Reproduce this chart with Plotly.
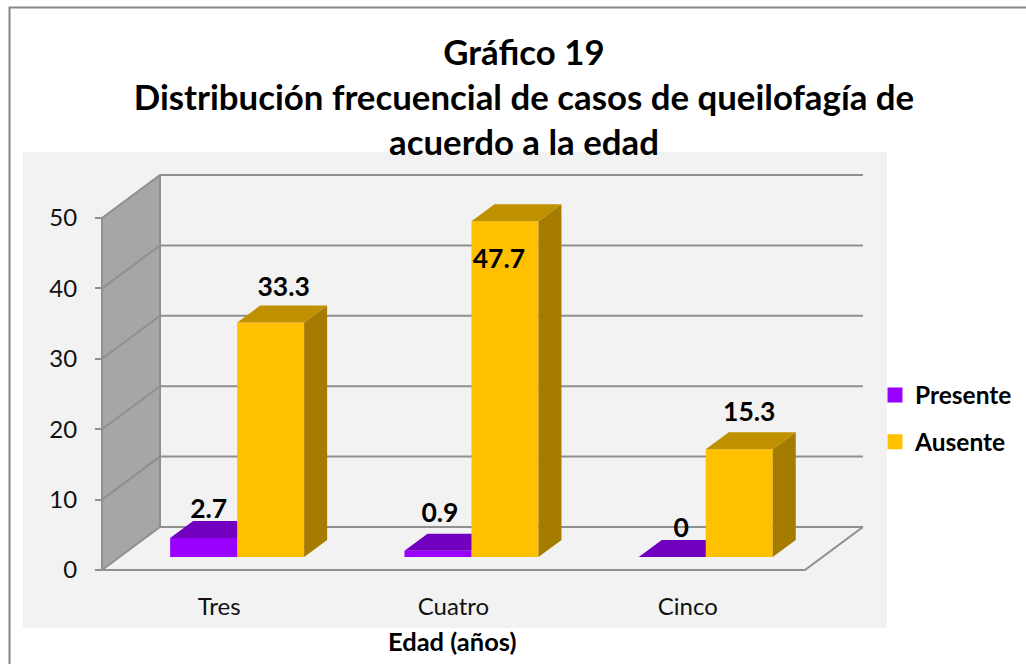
import plotly.graph_objects as go

# --- data ---
categories = ["Tres", "Cuatro", "Cinco"]
presente = [2.7, 0.9, 0]
ausente = [33.3, 47.7, 15.3]
y_ticks = [0, 10, 20, 30, 40, 50]
title_lines = ["Gráfico 19", "Distribución frecuencial de casos de queilofagía de", "acuerdo a la edad"]

# --- page geometry (pixels) ---
W, H = 1026, 664
PX_X0, PX_Y0 = 102, 570          # origin of the value axes
PX_PER_CAT = 234.3
PX_PER_UNIT = 7.04

def ux(px):
    return px / PX_PER_CAT

def uy(px):
    return px / PX_PER_UNIT

X_RANGE = [ux(0 - PX_X0), ux(W - PX_X0)]
Y_RANGE = [uy(PX_Y0 - H), uy(PX_Y0)]

WALL_DX, WALL_DY = ux(58), uy(43)
BAR_DX, BAR_DY = ux(23), uy(17)
BAR_BASE = uy(13)
BAR_W = ux(67)
GROUP_SHIFT = ux(18)
cat_pos = [i + 0.5 for i in range(len(categories))]
n_cat = len(categories)

GRID = "#8f8f8f"
WALL = "#a6a6a6"
PANEL = "#f2f2f2"
FONT = "Lato"
PURPLE, ORANGE = "#9900FF", "#FFC000"

shapes = [
    dict(type="rect", xref="paper", yref="paper", x0=23 / W, x1=887 / W, y0=1 - 628 / H, y1=1 - 152 / H,
         fillcolor=PANEL, line_width=0, layer="below"),
    # the page border: only its left and top edges fall inside the picture
    dict(type="path", xref="paper", yref="paper", layer="below", line=dict(color="#868686", width=2),
         path=f"M{9.5 / W},0 L{9.5 / W},{1 - 7.5 / H} L1,{1 - 7.5 / H}"),
]
# left wall
shapes.append(dict(type="path", xref="x", yref="y", layer="below", fillcolor=WALL, line_width=0,
                   path=f"M0,0 L{WALL_DX},{WALL_DY} L{WALL_DX},{y_ticks[-1] + WALL_DY} L0,{y_ticks[-1]} Z"))
# gridlines on wall and back
for v in y_ticks:
    shapes.append(dict(type="path", xref="x", yref="y", layer="below", line=dict(color=GRID, width=2),
                       path=f"M0,{v} L{WALL_DX},{v + WALL_DY} L{n_cat + WALL_DX},{v + WALL_DY}"))
# axis lines, floor edges
shapes.append(dict(type="path", xref="x", yref="y", layer="below", line=dict(color=GRID, width=2),
                   path=f"M0,{y_ticks[-1]} L0,0 L{n_cat},0 L{n_cat + WALL_DX},{WALL_DY}"))
shapes.append(dict(type="line", xref="x", yref="y", layer="below", line=dict(color=GRID, width=2),
                   x0=WALL_DX, x1=WALL_DX, y0=WALL_DY, y1=y_ticks[-1] + WALL_DY))


def faces(xs, vals, top_color, side_color, xa, ya):
    out = []
    for x, v in zip(xs, vals):
        l, r = x - BAR_W / 2, x + BAR_W / 2
        b, t = BAR_BASE, BAR_BASE + v
        out.append(go.Scatter(x=[r, r + BAR_DX, r + BAR_DX, r, r], y=[b, b + BAR_DY, t + BAR_DY, t, b],
                              mode="lines", line_width=0, fill="toself", fillcolor=side_color,
                              showlegend=False, hoverinfo="skip", xaxis=xa, yaxis=ya))
        out.append(go.Scatter(x=[l, l + BAR_DX, r + BAR_DX, r, l], y=[t, t + BAR_DY, t + BAR_DY, t, t],
                              mode="lines", line_width=0, fill="toself", fillcolor=top_color,
                              showlegend=False, hoverinfo="skip", xaxis=xa, yaxis=ya))
    return out


x_pre = [c + GROUP_SHIFT - BAR_W / 2 for c in cat_pos]
x_aus = [c + GROUP_SHIFT + BAR_W / 2 for c in cat_pos]

fig = go.Figure()
# legend-only keys (a stroke makes the swatch as large as the reference's)
for name, col in [("Presente", PURPLE), ("Ausente", ORANGE)]:
    fig.add_trace(go.Bar(x=[None], y=[None], name=name, legendgroup=name,
                         marker=dict(color=col, line=dict(color=col, width=3))))
fig.add_trace(go.Bar(x=x_pre, y=presente, base=BAR_BASE, width=BAR_W, name="Presente", showlegend=False,
                     marker=dict(color=PURPLE, line_width=0), xaxis="x", yaxis="y"))
fig.add_traces(faces(x_pre, presente, "#7200BF", "#5C0099", "x", "y"))
fig.add_trace(go.Bar(x=x_aus, y=ausente, base=BAR_BASE, width=BAR_W, name="Ausente", showlegend=False,
                     marker=dict(color=ORANGE, line_width=0), xaxis="x2", yaxis="y2"))
fig.add_traces(faces(x_aus, ausente, "#BF9000", "#A67C00", "x2", "y2"))

# data labels: pixel nudges from each bar's centre-top
pre_dx, pre_dy = [5, 2, 9], [27, 35, 27]
aus_dx, aus_dy = [13, -6, 10], [33, -40, 35]
lx = [x + ux(d) for x, d in zip(x_pre, pre_dx)] + [x + ux(d) for x, d in zip(x_aus, aus_dx)]
ly = [BAR_BASE + v + uy(d) for v, d in zip(presente, pre_dy)] + [BAR_BASE + v + uy(d) for v, d in zip(ausente, aus_dy)]
lt = [f"{v:g}" for v in presente + ausente]
fig.add_trace(go.Scatter(x=lx, y=ly, text=lt, mode="text", textposition="middle center",
                         textfont=dict(family=FONT, size=26.5, color="#000000", weight="bold"),
                         showlegend=False, hoverinfo="skip", xaxis="x2", yaxis="y2"))

fig.update_layout(
    width=W, height=H, margin=dict(l=0, r=0, t=0, b=0, pad=0, autoexpand=False),
    paper_bgcolor="#ffffff", plot_bgcolor="rgba(0,0,0,0)", barmode="overlay", shapes=shapes,
    title=dict(text="<br>".join(f"<b>{t}</b>" for t in title_lines), x=524 / W, xanchor="center", y=1 - 65 / H, yanchor="top",
               font=dict(family=FONT, size=34.8, color="#000000")),
    xaxis=dict(domain=[0, 1], range=X_RANGE, anchor="free", position=1 - PX_Y0 / H, tickvals=cat_pos, ticktext=categories,
               showgrid=False, zeroline=False, ticks="", showline=False, ticklabelstandoff=20,
               tickfont=dict(family=FONT, size=24, color="#111111")),
    yaxis=dict(domain=[0, 1], range=Y_RANGE, anchor="free", position=PX_X0 / W, tickvals=y_ticks,
               showgrid=False, zeroline=False, ticks="outside", ticklen=7, tickwidth=2, tickcolor=GRID, showline=False,
               ticklabelstandoff=13, tickfont=dict(family=FONT, size=24, color="#111111")),
    xaxis2=dict(range=X_RANGE, overlaying="x", visible=False, anchor="y2"),
    yaxis2=dict(range=Y_RANGE, overlaying="y", visible=False, anchor="x2"),
    legend=dict(x=875 / W, xanchor="left", y=1 - 372.5 / H, yanchor="top", bgcolor="rgba(0,0,0,0)", tracegroupgap=12,
                font=dict(family=FONT, size=24.5, color="#000000", weight="bold")),
    annotations=[dict(text="<b>Edad (años)</b>", xref="paper", yref="paper", x=452 / W, y=1 - 641 / H,
                      xanchor="center", yanchor="middle", showarrow=False,
                      font=dict(family=FONT, size=25.5, color="#000000"))],
)
fig.write_html("out.html", post_script="document.body.style.margin='0';", config=dict(displayModeBar=False))
